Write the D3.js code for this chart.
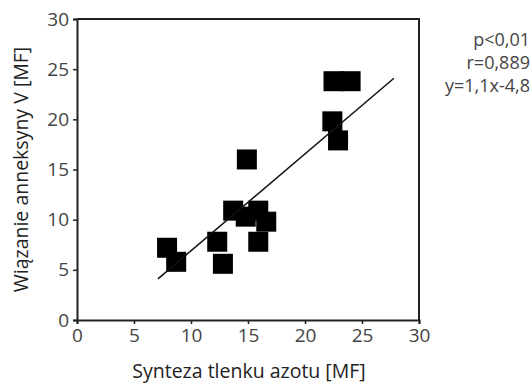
<!DOCTYPE html>
<html>
<head>
<meta charset="utf-8">
<script src="https://cdn.jsdelivr.net/npm/d3@7"></script>
<style>
	body { margin: 0; background: #fff; }
	text { font-family: "Open Sans", sans-serif; }
</style>
</head>
<body>
<script>
// data
var xValues = [7.9, 8.7, 12.3, 12.8, 13.7, 14.8, 15.9, 16.6, 15.9, 14.9, 22.4, 22.9, 22.5, 24.0];
var yValues = [7.2, 5.8, 7.8, 5.6, 10.9, 10.3, 10.9, 9.8, 7.8, 16.0, 19.8, 17.9, 23.8, 23.8];
var fitX = [7.1, 27.8];
var fitY = [4.1, 24.1];
var xTicks = [0, 5, 10, 15, 20, 25, 30];
var yTicks = [0, 5, 10, 15, 20, 25, 30];
var statLines = ["p<0,01", "r=0,889", "y=1,1x-4,8"];

var margin = { top: 19, right: 113, bottom: 65, left: 77 },
	width = 532 - margin.left - margin.right,
	height = 385 - margin.top - margin.bottom;

var svg = d3.select("body").append("svg")
	.attr("width", 532)
	.attr("height", 385);

var g = svg.append("g")
	.attr("transform", "translate(" + margin.left + "," + margin.top + ")");

var x = d3.scaleLinear().domain([0, 30]).range([0, width]);
var y = d3.scaleLinear().domain([0, 30]).range([height, 0]);

// frame (top + right)
g.append("path")
	.attr("d", "M0,0H" + width + "V" + height)
	.attr("fill", "none")
	.attr("stroke", "#222")
	.attr("stroke-width", 2);

var xAxis = g.append("g")
	.attr("transform", "translate(0," + height + ")")
	.call(d3.axisBottom(x).tickValues(xTicks).tickSize(4).tickPadding(5));
var yAxis = g.append("g")
	.call(d3.axisLeft(y).tickValues(yTicks).tickSize(4).tickPadding(4));

[xAxis, yAxis].forEach(function (a) {
	a.select(".domain").attr("stroke", "#222").attr("stroke-width", 2);
	a.selectAll(".tick line").attr("stroke", "#222").attr("stroke-width", 1.5);
	a.selectAll(".tick text")
		.attr("font-family", "Open Sans")
		.attr("font-size", 19)
		.attr("fill", "#444");
});

// points
var pts = xValues.map(function (d, i) { return { x: d, y: yValues[i] }; });
var sq = 20;
g.selectAll(".pt")
	.data(pts)
	.enter()
	.append("rect")
	.attr("class", "pt")
	.attr("x", function (d) { return x(d.x) - sq / 2; })
	.attr("y", function (d) { return y(d.y) - sq / 2; })
	.attr("width", sq)
	.attr("height", sq)
	.attr("fill", "#000");

// regression line
g.append("line")
	.attr("x1", x(fitX[0]))
	.attr("y1", y(fitY[0]))
	.attr("x2", x(fitX[1]))
	.attr("y2", y(fitY[1]))
	.attr("stroke", "#111")
	.attr("stroke-width", 1.5);

// axis titles
svg.append("text")
	.attr("x", 249)
	.attr("y", 378)
	.attr("text-anchor", "middle")
	.attr("font-size", 19.5)
	.attr("fill", "#222")
	.text("Synteza tlenku azotu [MF]");

svg.append("text")
	.attr("transform", "translate(28," + (margin.top + height / 2) + ") rotate(-90)")
	.attr("text-anchor", "middle")
	.attr("font-size", 19.5)
	.attr("fill", "#222")
	.text("Wiązanie anneksyny V [MF]");

// stats
svg.selectAll(".stat")
	.data(statLines)
	.enter()
	.append("text")
	.attr("class", "stat")
	.attr("x", 530)
	.attr("y", function (d, i) { return 46 + i * 23; })
	.attr("text-anchor", "end")
	.attr("font-size", 18)
	.attr("fill", "#444")
	.text(function (d) { return d; });
</script>
</body>
</html>
